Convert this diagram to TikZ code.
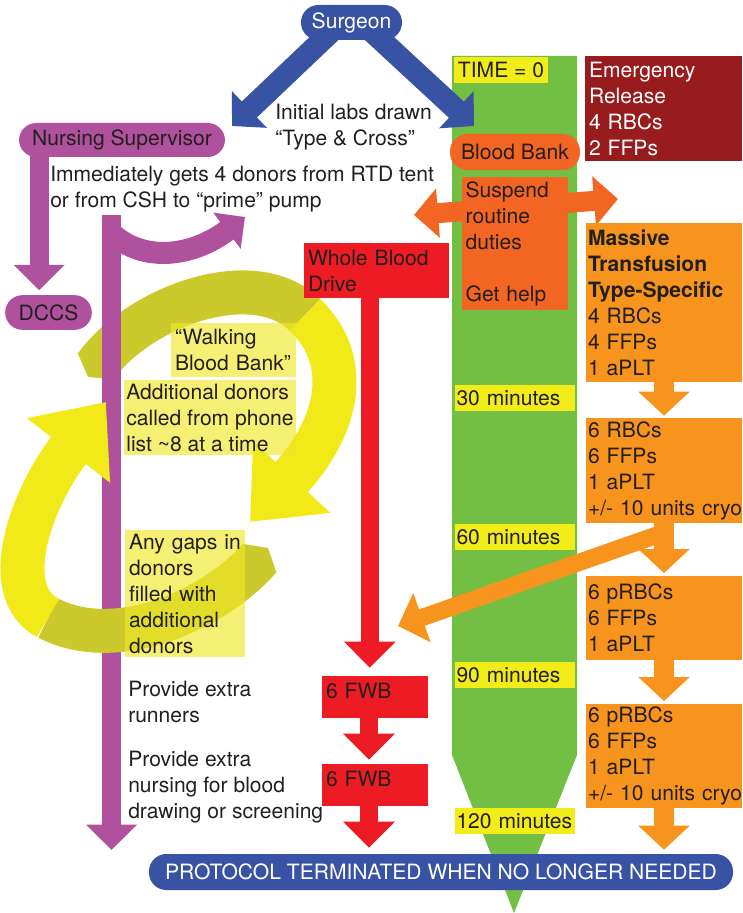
\documentclass[tikz,border=0pt]{standalone}
\usepackage{fontspec}
\setmainfont{TeX Gyre Heros}
\usetikzlibrary{positioning,arrows.meta,calc,backgrounds}
\definecolor{surgblue}{RGB}{57,83,164}
\definecolor{nursemag}{RGB}{176,81,157}
\definecolor{colgreen}{RGB}{114,191,68}
\definecolor{timeyel}{RGB}{242,236,25}
\definecolor{loopyel}{RGB}{241,233,24}
\definecolor{loopolive}{RGB}{203,201,43}
\definecolor{noteyel}{RGB}{240,231,40}
\definecolor{bankorange}{RGB}{242,101,34}
\definecolor{mtorange}{RGB}{247,148,29}
\definecolor{wbred}{RGB}{237,28,36}
\definecolor{emred}{RGB}{152,27,30}
\definecolor{txtgray}{RGB}{35,31,32}
\tikzset{
  every node/.style = {font=\fontsize{15.8}{19.5}\selectfont, text=txtgray},
  pill/.style     = {rounded corners=13pt, inner sep=0pt, align=center},
  cbox/.style     = {inner xsep=3pt, inner ysep=0pt, align=left},
  mtbox/.style    = {cbox, fill=mtorange, inner xsep=1.5pt, text width=114pt},
  donorbox/.style = {cbox, fill=noteyel, fill opacity=.65, text opacity=1},
  txt/.style      = {inner sep=0pt, align=left, anchor=north west},
  fwb/.style      = {cbox, fill=wbred, text width=73.5pt, text height=16.5pt, text depth=15pt},
  bluearr/.style  = {draw=surgblue, line width=16.5pt, -{Triangle[length=18pt,width=37pt]}},
  magarr/.style   = {draw=nursemag, line width=14pt, -{Triangle[length=19pt,width=37pt]}},
  redarr/.style   = {draw=wbred, line width=13.5pt, -{Triangle[length=19.5pt,width=37.5pt]}},
  mtarr/.style    = {draw=mtorange, line width=15pt, -{Triangle[length=18pt,width=37.5pt]}},
  bankarr/.style  = {draw=bankorange, line width=15pt, {Triangle[length=18pt,width=36pt]}-{Triangle[length=18pt,width=36pt]}},
  loophead/.style = {draw=loopyel, line width=33pt, -{Triangle[length=46pt,width=76pt]}},
  looptail/.style = {draw=loopolive, line width=33pt, {Triangle[length=10pt,width=33pt]}-},
}

\begin{document}
\begin{tikzpicture}[x=0.75pt, y=-0.75pt]
  \useasboundingbox (0,0) rectangle (742,913);

  % people
  \node[pill, fill=surgblue, text=white, minimum width=75.75pt, minimum height=26.25pt] (surgeon) at (351.5,22.5) {Surgeon};
  \node[pill, fill=nursemag, minimum width=154.5pt, minimum height=25.5pt] (nurse) at (122,140) {Nursing Supervisor};
  \node[pill, fill=nursemag, minimum width=65pt, minimum height=26pt] (dccs) at (48.5,312.5) {DCCS};
  \node[txt] (labs) at (275,104) {Initial labs drawn\\“Type \& Cross”};
  \node[txt] (donors) at (50,166) {Immediately gets 4 donors from RTD tent\\or from CSH to “prime” pump};

  % time line
  \node[cbox, fill=timeyel, inner xsep=0pt, align=center, minimum width=70pt, minimum height=19.5pt] (t0) at (501,70) {TIME = 0};
  \node[cbox, fill=timeyel, text width=87pt, inner xsep=1.5pt, minimum height=19.5pt] (t30) at (514.5,398) {30 minutes};
  \node[cbox, fill=timeyel, text width=87pt, inner xsep=1.5pt, minimum height=19.5pt] (t60) at (514.5,537) {60 minutes};
  \node[cbox, fill=timeyel, text width=87pt, inner xsep=1.5pt, minimum height=19.5pt] (t90) at (514.5,675) {90 minutes};
  \node[cbox, fill=timeyel, text width=87pt, inner xsep=1.5pt, minimum height=19.5pt] (t120) at (514.5,821) {120 minutes};

  % blood bank
  \node[pill, fill=bankorange, minimum width=97.5pt, minimum height=27pt] (bank) at (515,152) {Blood Bank};
  \node[cbox, fill=bankorange, text width=74pt, minimum height=99.75pt] (help) at (515,243.5) {Suspend\\routine\\duties\\\mbox{}\\Get help};
  \node[cbox, fill=emred, text=white, text width=111.75pt, minimum height=78.75pt] (emerg) at (663.5,108.5) {Emergency\\Release\\4 RBCs\\2 FFPs};
  \node[mtbox, minimum height=119pt] (mt1) at (664,302.5) {\textbf{Massive}\\\textbf{Transfusion}\\\textbf{Type-Specific}\\4 RBCs\\4 FFPs\\1 aPLT};
  \node[mtbox, minimum height=78.75pt] (mt2) at (664,470.5) {6 RBCs\\6 FFPs\\1 aPLT\\\mbox{+/- 10 units cryo}};
  \node[mtbox, minimum height=63pt] (mt3) at (664,618) {6 pRBCs\\6 FFPs\\1 aPLT};
  \node[mtbox, minimum height=78pt] (mt4) at (664,756) {6 pRBCs\\6 FFPs\\1 aPLT\\\mbox{+/- 10 units cryo}};

  % whole blood
  \node[cbox, fill=wbred, text width=102.75pt, minimum height=41.25pt] (wbd) at (376.5,270.5) {Whole Blood\\Drive};
  \node[fwb] (fwb1) at (375,697) {6 FWB};
  \node[fwb] (fwb2) at (375,785) {6 FWB};

  % walking blood bank
  \node[donorbox, text width=87.75pt, minimum height=40.5pt] (walk) at (233.5,350) {“Walking\\Blood Bank”};
  \node[donorbox, inner xsep=1.5pt, minimum width=129pt, minimum height=56.25pt] (calls) at (210,417.5) {Additional donors\\called from phone\\list \textasciitilde 8 at a time};
  \node[donorbox, text width=84pt, minimum height=95.25pt] (gaps) at (185,593.5) {Any gaps in\\donors\\filled with\\additional\\donors};
  \node[txt] (runners) at (128,681) {Provide extra\\runners};
  \node[txt] (nursing) at (128,751) {Provide extra\\nursing for blood\\drawing or screening};

  \node[pill, fill=surgblue, text=white, minimum width=438pt, minimum height=27pt] (stop) at (441,872) {PROTOCOL TERMINATED WHEN NO LONGER NEEDED};

  \coordinate (labL) at (232,126);
  \coordinate (labR) at (474,126);
  \coordinate (pumptop) at (111.5,215);
  \coordinate (pumpend) at (111.5,850);
  \coordinate (primetip) at (245,217);
  \coordinate (bankL) at (414,215);
  \coordinate (bankR) at (618,199);
  \coordinate (wbin) at (398,626);

  \begin{scope}[on background layer]
    \fill[colgreen] (452,56) -- (577,56) -- (577,755) -- (514,913) -- (452,755) -- cycle;
    % donor loop, upper arrow
    \draw[looptail] (88,377) .. controls (140,305) and (255,265) .. (305,315);
    \draw[loophead] (305,315) .. controls (352,360) and (340,425) .. (250,522);
    % nursing supervisor arrows
    \draw[magarr, shorten >=3.5pt] ([xshift=-7pt]nurse.center -| dccs.north) -- ([xshift=-7pt]dccs.north);
    \draw[magarr] (pumptop) -- (pumpend);
    \draw[magarr, line width=16.5pt, -{Triangle[length=17pt,width=33pt]}] (110,232) .. controls (145,265) and (195,255) .. (primetip);
    % donor loop, lower arrow
    \draw[looptail] (268,548) .. controls (220,605) and (120,655) .. (48,618);
    \draw[loophead] (48,618) .. controls (-2,592) and (30,500) .. (106,402);
    % surgeon
    \draw[bluearr] ([xshift=-8pt]surgeon.center) -- (labL);
    \draw[bluearr] ([xshift=8pt]surgeon.center) -- (labR);
    % blood bank
    \draw[bankarr] (bankL) -- (bankR);
    \draw[mtarr, shorten >=1.5pt] (mt1) -- (mt2);
    \draw[mtarr, shorten >=2pt] (mt2) -- (mt3);
    \draw[mtarr, shorten >=2pt] (mt3) -- (mt4);
    \draw[mtarr, shorten >=3pt] (mt4) -- (mt4 |- stop.north);
    \draw[mtarr, line width=13pt, -{Triangle[length=19pt,width=38pt]}] ([yshift=-7pt]mt2.south) -- (wbin);
    % whole blood
    \draw[redarr, shorten >=6pt] ([xshift=-5pt]wbd.center) -- ([xshift=-5pt]wbd.center |- fwb1.north);
    \draw[redarr, shorten >=3pt] ([xshift=-4.5pt]fwb1.center) -- ([xshift=-4.5pt]fwb2.north);
    \draw[redarr, shorten >=4.5pt] ([xshift=-4.5pt]fwb2.center) -- ([xshift=-4.5pt]fwb2.center |- stop.north);
  \end{scope}
\end{tikzpicture}
\end{document}
